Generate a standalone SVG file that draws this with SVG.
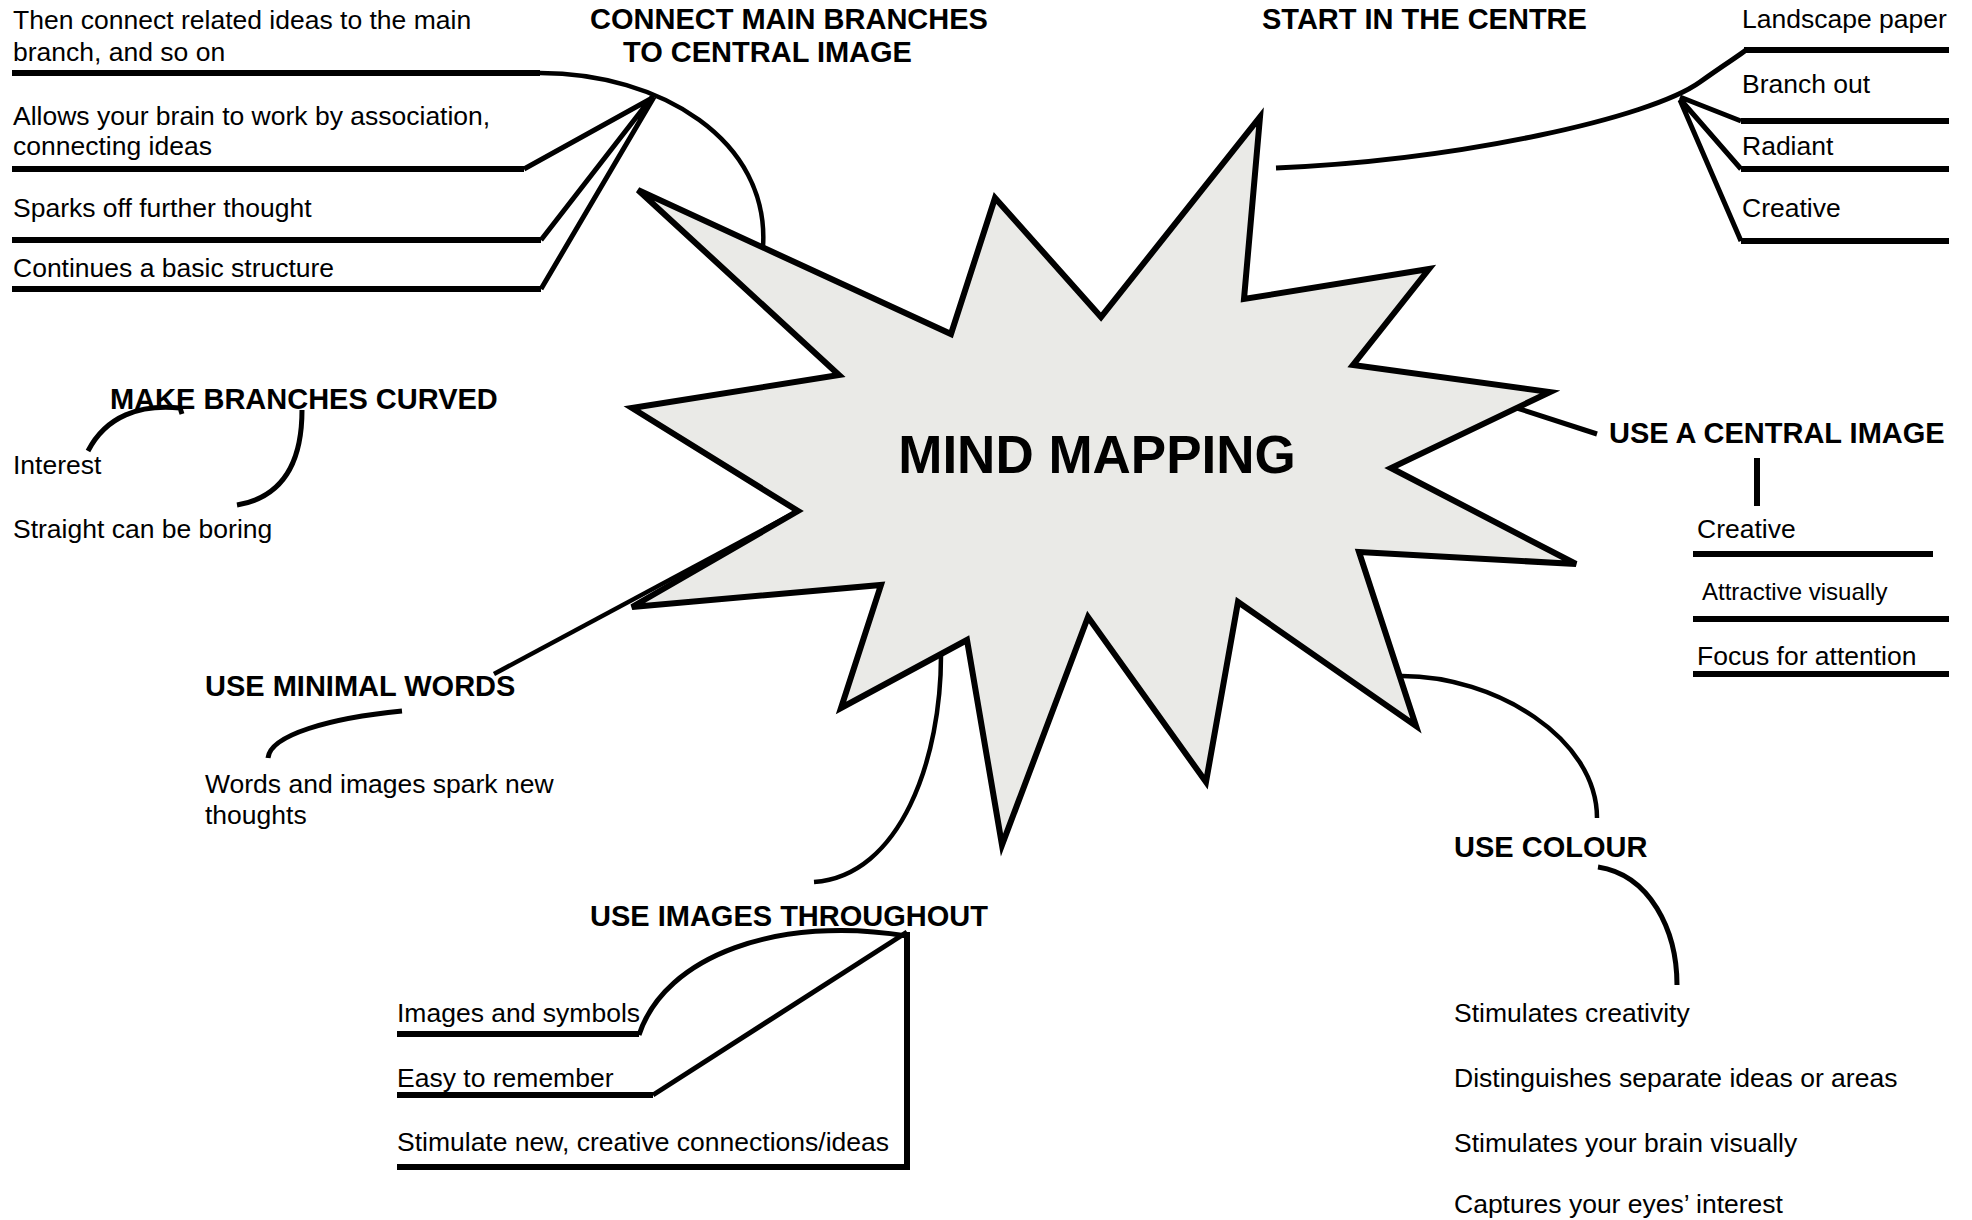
<svg xmlns="http://www.w3.org/2000/svg" width="1972" height="1220" viewBox="0 0 1972 1220">
<style>
  .t{font-family:"Liberation Sans",Arial,sans-serif;font-size:26.5px;fill:#000}
  .s{font-size:24px}
  .h{font-family:"Liberation Sans",Arial,sans-serif;font-size:29px;font-weight:bold;fill:#000}
  .c{font-family:"Liberation Sans",Arial,sans-serif;font-size:53px;font-weight:bold;fill:#000}
  .bar{stroke:#000;stroke-width:6;fill:none}
  .ln{stroke:#000;stroke-width:5;fill:none;stroke-linecap:butt;stroke-linejoin:round}
  .thin{stroke:#000;stroke-width:4.5;fill:none}
</style>
<rect width="1972" height="1220" fill="#fff"/>

<g id="connectors">
  <!-- top-left: connect main branches -->
  <path class="bar" d="M12 73 H540"/>
  <path class="thin" d="M540 73 C660 73 770 140 763 247"/>
  <path class="bar" d="M12 169 H524"/>
  <path class="bar" d="M12 240 H541"/>
  <path class="bar" d="M12 289 H541"/>
  <path class="ln" d="M524 169 L654 97 M541 240 L652 97 M541 289 L654 97"/>
  <!-- top-right: start in the centre -->
  <path class="ln" d="M1276 168 C1460 160 1650 118 1700 82 C1725 64 1740 55 1746 50"/>
  <path class="bar" d="M1744 50 H1949"/>
  <path class="bar" d="M1741 121 H1949"/>
  <path class="bar" d="M1741 169 H1949"/>
  <path class="bar" d="M1741 241 H1949"/>
  <path class="ln" d="M1680 97 L1741 121 M1680 99 L1741 169 M1680 100 L1741 241"/>
  <!-- make branches curved -->
  <path class="ln" d="M88 451 C106 416 140 404 180 408 L182 414"/>
  <path class="ln" d="M302 410 C302 452 290 496 237 505"/>
  <!-- use minimal words -->
  <path class="thin" d="M798 511 L494 674"/>
  <path class="ln" d="M402 711 C330 718 270 735 268 758"/>
  <!-- use images throughout -->
  <path class="thin" d="M941 651 C942 760 900 876 814 882"/>
  <path class="bar" d="M397 1034 H639"/>
  <path class="bar" d="M397 1095 H653"/>
  <path class="bar" d="M397 1167 H910"/>
  <path class="bar" d="M907 932 V1170"/>
  <path class="ln" d="M639 1035 C665 955 780 915 907 936"/>
  <path class="ln" d="M653 1095 L907 932"/>
  <!-- use a central image -->
  <path class="ln" d="M1517 408 L1597 434"/>
  <path class="bar" d="M1757 458 V506"/>
  <path class="bar" d="M1693 554 H1933"/>
  <path class="bar" d="M1693 619 H1949"/>
  <path class="bar" d="M1693 674 H1949"/>
  <!-- use colour -->
  <path class="thin" d="M1402 676 C1495 676 1597 738 1597 818"/>
  <path class="ln" d="M1598 867 C1650 875 1677 930 1677 985"/>
</g>

<g id="center">
  <polygon points="638,190 951,334 995,198 1101,317 1260,117 1244,299 1429,269 1353,365 1550,392 1391,468 1576,564 1359,552 1416,726 1238,602 1206,782 1088,617 1002,845 967,640 841,708 881,585 632,607 798,511 632,408 839,375" fill="#eaeae7" stroke="#000" stroke-width="6" stroke-linejoin="miter"/>
  <text class="c" x="1097" y="473" text-anchor="middle">MIND MAPPING</text>
</g>

<g id="connect-main-branches">
  <text class="h" x="590" y="29">CONNECT MAIN BRANCHES</text>
  <text class="h" x="623" y="62">TO CENTRAL IMAGE</text>
  <text class="t" x="13" y="29">Then connect related ideas to the main</text>
  <text class="t" x="13" y="61">branch, and so on</text>
  <text class="t" x="13" y="125">Allows your brain to work by association,</text>
  <text class="t" x="13" y="155">connecting ideas</text>
  <text class="t" x="13" y="217">Sparks off further thought</text>
  <text class="t" x="13" y="277">Continues a basic structure</text>
</g>

<g id="start-in-the-centre">
  <text class="h" x="1262" y="29">START IN THE CENTRE</text>
  <text class="t" x="1742" y="28">Landscape paper</text>
  <text class="t" x="1742" y="93">Branch out</text>
  <text class="t" x="1742" y="155">Radiant</text>
  <text class="t" x="1742" y="217">Creative</text>
</g>

<g id="make-branches-curved">
  <text class="h" x="110" y="409">MAKE BRANCHES CURVED</text>
  <text class="t" x="13" y="474">Interest</text>
  <text class="t" x="13" y="538">Straight can be boring</text>
</g>

<g id="use-minimal-words">
  <text class="h" x="205" y="696">USE MINIMAL WORDS</text>
  <text class="t" x="205" y="793">Words and images spark new</text>
  <text class="t" x="205" y="824">thoughts</text>
</g>

<g id="use-images-throughout">
  <text class="h" x="590" y="926">USE IMAGES THROUGHOUT</text>
  <text class="t" x="397" y="1022">Images and symbols</text>
  <text class="t" x="397" y="1087">Easy to remember</text>
  <text class="t" x="397" y="1151">Stimulate new, creative connections/ideas</text>
</g>

<g id="use-a-central-image">
  <text class="h" x="1609" y="443">USE A CENTRAL IMAGE</text>
  <text class="t" x="1697" y="538">Creative</text>
  <text class="t s" x="1702" y="600">Attractive visually</text>
  <text class="t" x="1697" y="665">Focus for attention</text>
</g>

<g id="use-colour">
  <text class="h" x="1454" y="857">USE COLOUR</text>
  <text class="t" x="1454" y="1022">Stimulates creativity</text>
  <text class="t" x="1454" y="1087">Distinguishes separate ideas or areas</text>
  <text class="t" x="1454" y="1152">Stimulates your brain visually</text>
  <text class="t" x="1454" y="1213">Captures your eyes’ interest</text>
</g>
</svg>
